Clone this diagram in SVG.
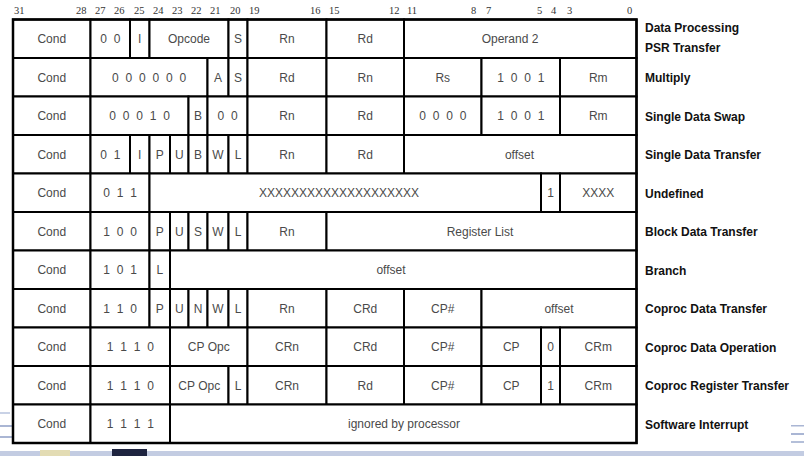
<svg xmlns="http://www.w3.org/2000/svg" width="804" height="456" viewBox="0 0 804 456">
<style>
.c{fill:#fff;stroke:#000;stroke-width:2}
.t{font-family:"Liberation Sans",Arial,sans-serif;font-size:12px;fill:#4a4a4a;text-anchor:middle}
.d{word-spacing:3.5px}
.l{font-family:"Liberation Sans",Arial,sans-serif;font-size:12px;font-weight:bold;fill:#111}
.h{font-family:"Liberation Serif","Times New Roman",serif;font-size:10.5px;fill:#333}
.deco{fill:#c3cce2}
</style>
<rect width="804" height="456" fill="#fff"/>
<g id="background">
<rect class="deco" x="0" y="451" width="804" height="5"/>
<rect x="112" y="449" width="35" height="7" fill="#1e2440"/>
<rect x="40" y="450" width="30" height="6" fill="#e3dcb4"/>
<rect x="0" y="412" width="10" height="2" fill="#c9d2e6"/>
<rect x="0" y="425" width="12" height="2" fill="#aab6d4"/>
<rect x="0" y="436" width="12" height="2" fill="#aab6d4"/>
<rect x="791" y="425" width="13" height="1.5" fill="#aab6d4"/>
<rect x="791" y="433" width="13" height="2" fill="#aab6d4"/>
<rect x="791" y="441" width="13" height="2" fill="#b4bfd9"/>
</g>
<g id="bit-numbers" class="h">
<text x="14" y="14">31</text><text x="76" y="14">28</text><text x="95" y="14">27</text><text x="114" y="14">26</text><text x="134" y="14">25</text><text x="153" y="14">24</text><text x="172" y="14">23</text><text x="191" y="14">22</text><text x="210" y="14">21</text><text x="230" y="14">20</text><text x="249" y="14">19</text><text x="310" y="14">16</text><text x="329" y="14">15</text><text x="389" y="14">12</text><text x="407" y="14">11</text><text x="471" y="14">8</text><text x="486" y="14">7</text><text x="537" y="14">5</text><text x="551" y="14">4</text><text x="567" y="14">3</text><text x="627" y="14">0</text>
</g>
<g id="row-data-processing">
<rect class="c" x="13" y="19.5" width="77.5" height="38.5"/><rect class="c" x="90.5" y="19.5" width="39.5" height="38.5"/><rect class="c" x="130" y="19.5" width="19.5" height="38.5"/><rect class="c" x="149.5" y="19.5" width="79" height="38.5"/><rect class="c" x="228.5" y="19.5" width="19" height="38.5"/><rect class="c" x="247.5" y="19.5" width="79" height="38.5"/><rect class="c" x="326.5" y="19.5" width="77.5" height="38.5"/><rect class="c" x="404" y="19.5" width="232.5" height="38.5"/>
<text class="t" x="51.75" y="43.3">Cond</text><text class="t d" x="110.25" y="43.3">0 0</text><text class="t" x="139.75" y="43.3">I</text><text class="t" x="189" y="43.3">Opcode</text><text class="t" x="238" y="43.3">S</text><text class="t" x="287" y="43.3">Rn</text><text class="t" x="365.25" y="43.3">Rd</text><text class="t" x="510" y="43.3">Operand 2</text>
<text class="l" x="645" y="31.5">Data Processing</text><text class="l" x="645" y="52">PSR Transfer</text>
</g>
<g id="row-multiply">
<rect class="c" x="13" y="58" width="77.5" height="38.5"/><rect class="c" x="90.5" y="58" width="117" height="38.5"/><rect class="c" x="207.5" y="58" width="21" height="38.5"/><rect class="c" x="228.5" y="58" width="19" height="38.5"/><rect class="c" x="247.5" y="58" width="79" height="38.5"/><rect class="c" x="326.5" y="58" width="77.5" height="38.5"/><rect class="c" x="404" y="58" width="77.5" height="38.5"/><rect class="c" x="481.5" y="58" width="78.5" height="38.5"/><rect class="c" x="560" y="58" width="76.5" height="38.5"/>
<text class="t" x="51.75" y="81.8">Cond</text><text class="t d" x="149" y="81.8">0 0 0 0 0 0</text><text class="t" x="218" y="81.8">A</text><text class="t" x="238" y="81.8">S</text><text class="t" x="287" y="81.8">Rd</text><text class="t" x="365.25" y="81.8">Rn</text><text class="t" x="442.75" y="81.8">Rs</text><text class="t d" x="520.75" y="81.8">1 0 0 1</text><text class="t" x="598.25" y="81.8">Rm</text>
<text class="l" x="645" y="82">Multiply</text>
</g>
<g id="row-single-data-swap">
<rect class="c" x="13" y="96.5" width="77.5" height="38.5"/><rect class="c" x="90.5" y="96.5" width="98" height="38.5"/><rect class="c" x="188.5" y="96.5" width="19" height="38.5"/><rect class="c" x="207.5" y="96.5" width="40" height="38.5"/><rect class="c" x="247.5" y="96.5" width="79" height="38.5"/><rect class="c" x="326.5" y="96.5" width="77.5" height="38.5"/><rect class="c" x="404" y="96.5" width="77.5" height="38.5"/><rect class="c" x="481.5" y="96.5" width="78.5" height="38.5"/><rect class="c" x="560" y="96.5" width="76.5" height="38.5"/>
<text class="t" x="51.75" y="120.3">Cond</text><text class="t d" x="139.5" y="120.3">0 0 0 1 0</text><text class="t" x="198" y="120.3">B</text><text class="t d" x="227.5" y="120.3">0 0</text><text class="t" x="287" y="120.3">Rn</text><text class="t" x="365.25" y="120.3">Rd</text><text class="t d" x="442.75" y="120.3">0 0 0 0</text><text class="t d" x="520.75" y="120.3">1 0 0 1</text><text class="t" x="598.25" y="120.3">Rm</text>
<text class="l" x="645" y="120.5">Single Data Swap</text>
</g>
<g id="row-single-data-transfer">
<rect class="c" x="13" y="135" width="77.5" height="38.5"/><rect class="c" x="90.5" y="135" width="39.5" height="38.5"/><rect class="c" x="130" y="135" width="19.5" height="38.5"/><rect class="c" x="149.5" y="135" width="20.5" height="38.5"/><rect class="c" x="170" y="135" width="18.5" height="38.5"/><rect class="c" x="188.5" y="135" width="19" height="38.5"/><rect class="c" x="207.5" y="135" width="21" height="38.5"/><rect class="c" x="228.5" y="135" width="19" height="38.5"/><rect class="c" x="247.5" y="135" width="79" height="38.5"/><rect class="c" x="326.5" y="135" width="77.5" height="38.5"/><rect class="c" x="404" y="135" width="232.5" height="38.5"/>
<text class="t" x="51.75" y="158.8">Cond</text><text class="t d" x="110.25" y="158.8">0 1</text><text class="t" x="139.75" y="158.8">I</text><text class="t" x="159.75" y="158.8">P</text><text class="t" x="179.25" y="158.8">U</text><text class="t" x="198" y="158.8">B</text><text class="t" x="218" y="158.8">W</text><text class="t" x="238" y="158.8">L</text><text class="t" x="287" y="158.8">Rn</text><text class="t" x="365.25" y="158.8">Rd</text><text class="t" x="519.5" y="158.8">offset</text>
<text class="l" x="645" y="159">Single Data Transfer</text>
</g>
<g id="row-undefined">
<rect class="c" x="13" y="173.5" width="77.5" height="38.5"/><rect class="c" x="90.5" y="173.5" width="59" height="38.5"/><rect class="c" x="149.5" y="173.5" width="391.5" height="38.5"/><rect class="c" x="541" y="173.5" width="19" height="38.5"/><rect class="c" x="560" y="173.5" width="76.5" height="38.5"/>
<text class="t" x="51.75" y="197.3">Cond</text><text class="t d" x="120" y="197.3">0 1 1</text><text class="t" x="339" y="197.3">XXXXXXXXXXXXXXXXXXXX</text><text class="t" x="550.5" y="197.3">1</text><text class="t" x="598.25" y="197.3">XXXX</text>
<text class="l" x="645" y="197.5">Undefined</text>
</g>
<g id="row-block-data-transfer">
<rect class="c" x="13" y="212" width="77.5" height="38.5"/><rect class="c" x="90.5" y="212" width="59" height="38.5"/><rect class="c" x="149.5" y="212" width="20.5" height="38.5"/><rect class="c" x="170" y="212" width="18.5" height="38.5"/><rect class="c" x="188.5" y="212" width="19" height="38.5"/><rect class="c" x="207.5" y="212" width="21" height="38.5"/><rect class="c" x="228.5" y="212" width="19" height="38.5"/><rect class="c" x="247.5" y="212" width="79" height="38.5"/><rect class="c" x="326.5" y="212" width="310" height="38.5"/>
<text class="t" x="51.75" y="235.8">Cond</text><text class="t d" x="120" y="235.8">1 0 0</text><text class="t" x="159.75" y="235.8">P</text><text class="t" x="179.25" y="235.8">U</text><text class="t" x="198" y="235.8">S</text><text class="t" x="218" y="235.8">W</text><text class="t" x="238" y="235.8">L</text><text class="t" x="287" y="235.8">Rn</text><text class="t" x="480" y="235.8">Register List</text>
<text class="l" x="645" y="236">Block Data Transfer</text>
</g>
<g id="row-branch">
<rect class="c" x="13" y="250.5" width="77.5" height="38.5"/><rect class="c" x="90.5" y="250.5" width="59" height="38.5"/><rect class="c" x="149.5" y="250.5" width="20.5" height="38.5"/><rect class="c" x="170" y="250.5" width="466.5" height="38.5"/>
<text class="t" x="51.75" y="274.3">Cond</text><text class="t d" x="120" y="274.3">1 0 1</text><text class="t" x="159.75" y="274.3">L</text><text class="t" x="391" y="274.3">offset</text>
<text class="l" x="645" y="274.5">Branch</text>
</g>
<g id="row-coproc-data-transfer">
<rect class="c" x="13" y="289" width="77.5" height="38.5"/><rect class="c" x="90.5" y="289" width="59" height="38.5"/><rect class="c" x="149.5" y="289" width="20.5" height="38.5"/><rect class="c" x="170" y="289" width="18.5" height="38.5"/><rect class="c" x="188.5" y="289" width="19" height="38.5"/><rect class="c" x="207.5" y="289" width="21" height="38.5"/><rect class="c" x="228.5" y="289" width="19" height="38.5"/><rect class="c" x="247.5" y="289" width="79" height="38.5"/><rect class="c" x="326.5" y="289" width="77.5" height="38.5"/><rect class="c" x="404" y="289" width="77.5" height="38.5"/><rect class="c" x="481.5" y="289" width="155" height="38.5"/>
<text class="t" x="51.75" y="312.8">Cond</text><text class="t d" x="120" y="312.8">1 1 0</text><text class="t" x="159.75" y="312.8">P</text><text class="t" x="179.25" y="312.8">U</text><text class="t" x="198" y="312.8">N</text><text class="t" x="218" y="312.8">W</text><text class="t" x="238" y="312.8">L</text><text class="t" x="287" y="312.8">Rn</text><text class="t" x="365.25" y="312.8">CRd</text><text class="t" x="442.75" y="312.8">CP#</text><text class="t" x="559" y="312.8">offset</text>
<text class="l" x="645" y="313">Coproc Data Transfer</text>
</g>
<g id="row-coproc-data-operation">
<rect class="c" x="13" y="327.5" width="77.5" height="38.5"/><rect class="c" x="90.5" y="327.5" width="79.5" height="38.5"/><rect class="c" x="170" y="327.5" width="77.5" height="38.5"/><rect class="c" x="247.5" y="327.5" width="79" height="38.5"/><rect class="c" x="326.5" y="327.5" width="77.5" height="38.5"/><rect class="c" x="404" y="327.5" width="77.5" height="38.5"/><rect class="c" x="481.5" y="327.5" width="59.5" height="38.5"/><rect class="c" x="541" y="327.5" width="19" height="38.5"/><rect class="c" x="560" y="327.5" width="76.5" height="38.5"/>
<text class="t" x="51.75" y="351.3">Cond</text><text class="t d" x="130.25" y="351.3">1 1 1 0</text><text class="t" x="208.75" y="351.3">CP Opc</text><text class="t" x="287" y="351.3">CRn</text><text class="t" x="365.25" y="351.3">CRd</text><text class="t" x="442.75" y="351.3">CP#</text><text class="t" x="511.25" y="351.3">CP</text><text class="t" x="550.5" y="351.3">0</text><text class="t" x="598.25" y="351.3">CRm</text>
<text class="l" x="645" y="351.5">Coproc Data Operation</text>
</g>
<g id="row-coproc-register-transfer">
<rect class="c" x="13" y="366" width="77.5" height="38.5"/><rect class="c" x="90.5" y="366" width="79.5" height="38.5"/><rect class="c" x="170" y="366" width="58.5" height="38.5"/><rect class="c" x="228.5" y="366" width="19" height="38.5"/><rect class="c" x="247.5" y="366" width="79" height="38.5"/><rect class="c" x="326.5" y="366" width="77.5" height="38.5"/><rect class="c" x="404" y="366" width="77.5" height="38.5"/><rect class="c" x="481.5" y="366" width="59.5" height="38.5"/><rect class="c" x="541" y="366" width="19" height="38.5"/><rect class="c" x="560" y="366" width="76.5" height="38.5"/>
<text class="t" x="51.75" y="389.8">Cond</text><text class="t d" x="130.25" y="389.8">1 1 1 0</text><text class="t" x="199.25" y="389.8">CP Opc</text><text class="t" x="238" y="389.8">L</text><text class="t" x="287" y="389.8">CRn</text><text class="t" x="365.25" y="389.8">Rd</text><text class="t" x="442.75" y="389.8">CP#</text><text class="t" x="511.25" y="389.8">CP</text><text class="t" x="550.5" y="389.8">1</text><text class="t" x="598.25" y="389.8">CRm</text>
<text class="l" x="645" y="390">Coproc Register Transfer</text>
</g>
<g id="row-software-interrupt">
<rect class="c" x="13" y="404.5" width="77.5" height="38.5"/><rect class="c" x="90.5" y="404.5" width="79.5" height="38.5"/><rect class="c" x="170" y="404.5" width="466.5" height="38.5"/>
<text class="t" x="51.75" y="428.3">Cond</text><text class="t d" x="130.25" y="428.3">1 1 1 1</text><text class="t" x="404" y="428.3">ignored by processor</text>
<text class="l" x="645" y="428.5">Software Interrupt</text>
</g>
<rect id="outer-border" x="13" y="19.5" width="623.5" height="423.5" fill="none" stroke="#000" stroke-width="2.5"/>
</svg>
